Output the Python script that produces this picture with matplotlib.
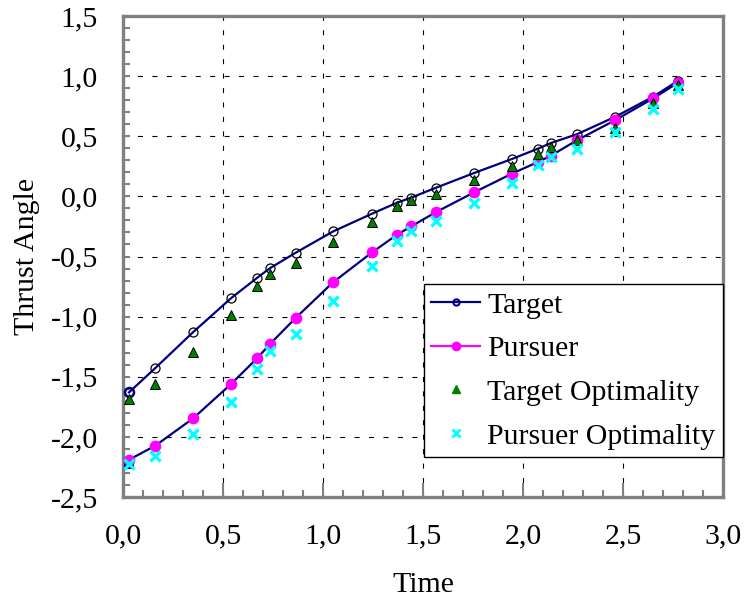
import matplotlib
matplotlib.use("Agg")
import matplotlib.pyplot as plt
from matplotlib.lines import Line2D
from matplotlib.ticker import MultipleLocator

# ---- data ----
time = [0.03, 0.16, 0.35, 0.54, 0.67, 0.735, 0.865, 1.05, 1.245, 1.37, 1.44,
        1.565, 1.755, 1.945, 2.075, 2.14, 2.27, 2.46, 2.65, 2.775]
target = [-1.63, -1.43, -1.13, -0.847, -0.678, -0.597, -0.467, -0.292, -0.144,
          -0.053, -0.011, 0.072, 0.194, 0.311, 0.397, 0.444, 0.517, 0.661, 0.828, 0.961]
pursuer = [-2.19, -2.075, -1.847, -1.561, -1.347, -1.228, -1.008, -0.715, -0.466,
           -0.319, -0.25, -0.131, 0.033, 0.189, 0.286, 0.339, 0.467, 0.633, 0.814, 0.945]
target_opt = [-1.686, -1.561, -1.292, -0.983, -0.744, -0.644, -0.553, -0.381, -0.214,
              -0.083, -0.028, 0.022, 0.133, 0.253, 0.356, 0.411, 0.472, 0.572, 0.778, 0.93]
pursuer_opt = [-2.228, -2.158, -1.978, -1.706, -1.436, -1.283, -1.144, -0.867, -0.575,
               -0.375, -0.289, -0.206, -0.053, 0.114, 0.258, 0.328, 0.397, 0.536, 0.73, 0.889]

xticks = [0.0, 0.5, 1.0, 1.5, 2.0, 2.5, 3.0]
xticklabels = ["0,0", "0,5", "1,0", "1,5", "2,0", "2,5", "3,0"]
yticks = [-2.5, -2.0, -1.5, -1.0, -0.5, 0.0, 0.5, 1.0, 1.5]
yticklabels = ["-2,5", "-2,0", "-1,5", "-1,0", "-0,5", "0,0", "0,5", "1,0", "1,5"]
series_names = ["Target", "Pursuer", "Target Optimality", "Pursuer Optimality"]

# ---- style ----
plt.rcParams['font.family'] = ['Liberation Serif', 'DejaVu Serif']
NAVY = '#000080'
MAG = '#ff00ff'
GREEN = '#008000'
CYAN = '#00ffff'
GRAY = '#808080'
FS = 21.5

fig = plt.figure(figsize=(7.47, 6.09), dpi=100)
ax = fig.add_axes([123/747, 1-497/609, 600/747, 481/609])

# curves
ax.plot(time, target, color=NAVY, lw=1.6, zorder=3)
ax.plot(time, pursuer, color=NAVY, lw=1.6, zorder=3)
# markers
ax.plot(time, target, ls='none', marker='o', ms=6.5, mfc='none', mec='black', mew=0.9, zorder=4)
ax.plot(time[:1], target[:1], ls='none', marker='o', ms=6.5, mfc='none', mec=NAVY, mew=1.8, zorder=5)
ax.plot(time[:1], pursuer_opt[:1], ls='none', marker='s', ms=6, mfc='none', mec=NAVY, mew=1.5, zorder=4)
ax.plot(time, pursuer, ls='none', marker='o', ms=7.4, mfc=MAG, mec=MAG, zorder=4)
ax.plot(time, target_opt, ls='none', marker='^', ms=7, mfc=GREEN, mec='black', mew=0.7, zorder=5)
ax.plot(time, pursuer_opt, ls='none', marker='x', ms=7.5, mec=CYAN, mew=2.4, zorder=6)

ax.set_xlim(0, 3.0)
ax.set_ylim(-2.5, 1.5)
ax.set_xticks(xticks)
ax.set_xticklabels(xticklabels)
ax.set_yticks(yticks)
ax.set_yticklabels(yticklabels)
ax.xaxis.set_minor_locator(MultipleLocator(0.1))
ax.yaxis.set_minor_locator(MultipleLocator(0.1))

ax.grid(True, which='major', color='black', lw=0.8, ls=(0, (4.5, 8.5)))
ax.set_axisbelow(True)
for s in ax.spines.values():
    s.set_color(GRAY)
    s.set_linewidth(2.4)

ax.tick_params(axis='both', which='both', direction='in', colors=GRAY, labelcolor='black',
               labelsize=FS, top=False, right=False)
ax.tick_params(axis='x', which='major', length=10, width=1.5, pad=19)
ax.tick_params(axis='x', which='minor', length=5, width=1.5)
ax.tick_params(axis='y', which='major', length=5, width=1.5, pad=18)
ax.tick_params(axis='y', which='minor', length=5, width=1.5)

ax.set_xlabel("Time", fontsize=FS)
ax.set_ylabel("Thrust Angle", fontsize=FS)
ax.xaxis.set_label_coords(0.5, -0.156)
ax.yaxis.set_label_coords(-0.138, 0.5)

handles = [
    Line2D([], [], color=NAVY, lw=1.6, marker='o', ms=4.5, mfc='none', mec=NAVY, mew=1.5),
    Line2D([], [], color=MAG, lw=1.6, marker='o', ms=6, mfc=MAG, mec=MAG),
    Line2D([], [], ls='none', marker='^', ms=6, mfc=GREEN, mec=GREEN),
    Line2D([], [], ls='none', marker='x', ms=6, mec=CYAN, mew=2),
]
leg = ax.legend(handles, series_names, loc='lower right', bbox_to_anchor=(1.0, 40/481),
                fontsize=FS, frameon=True, fancybox=False, shadow=False, borderaxespad=0,
                handlelength=1.64, handletextpad=0.23, labelspacing=0.56, borderpad=0.25)
leg.get_frame().set_edgecolor('black')
leg.get_frame().set_linewidth(1.0)
leg.get_frame().set_alpha(1)
leg.set_zorder(10)

fig.savefig("out.png", dpi=100)
